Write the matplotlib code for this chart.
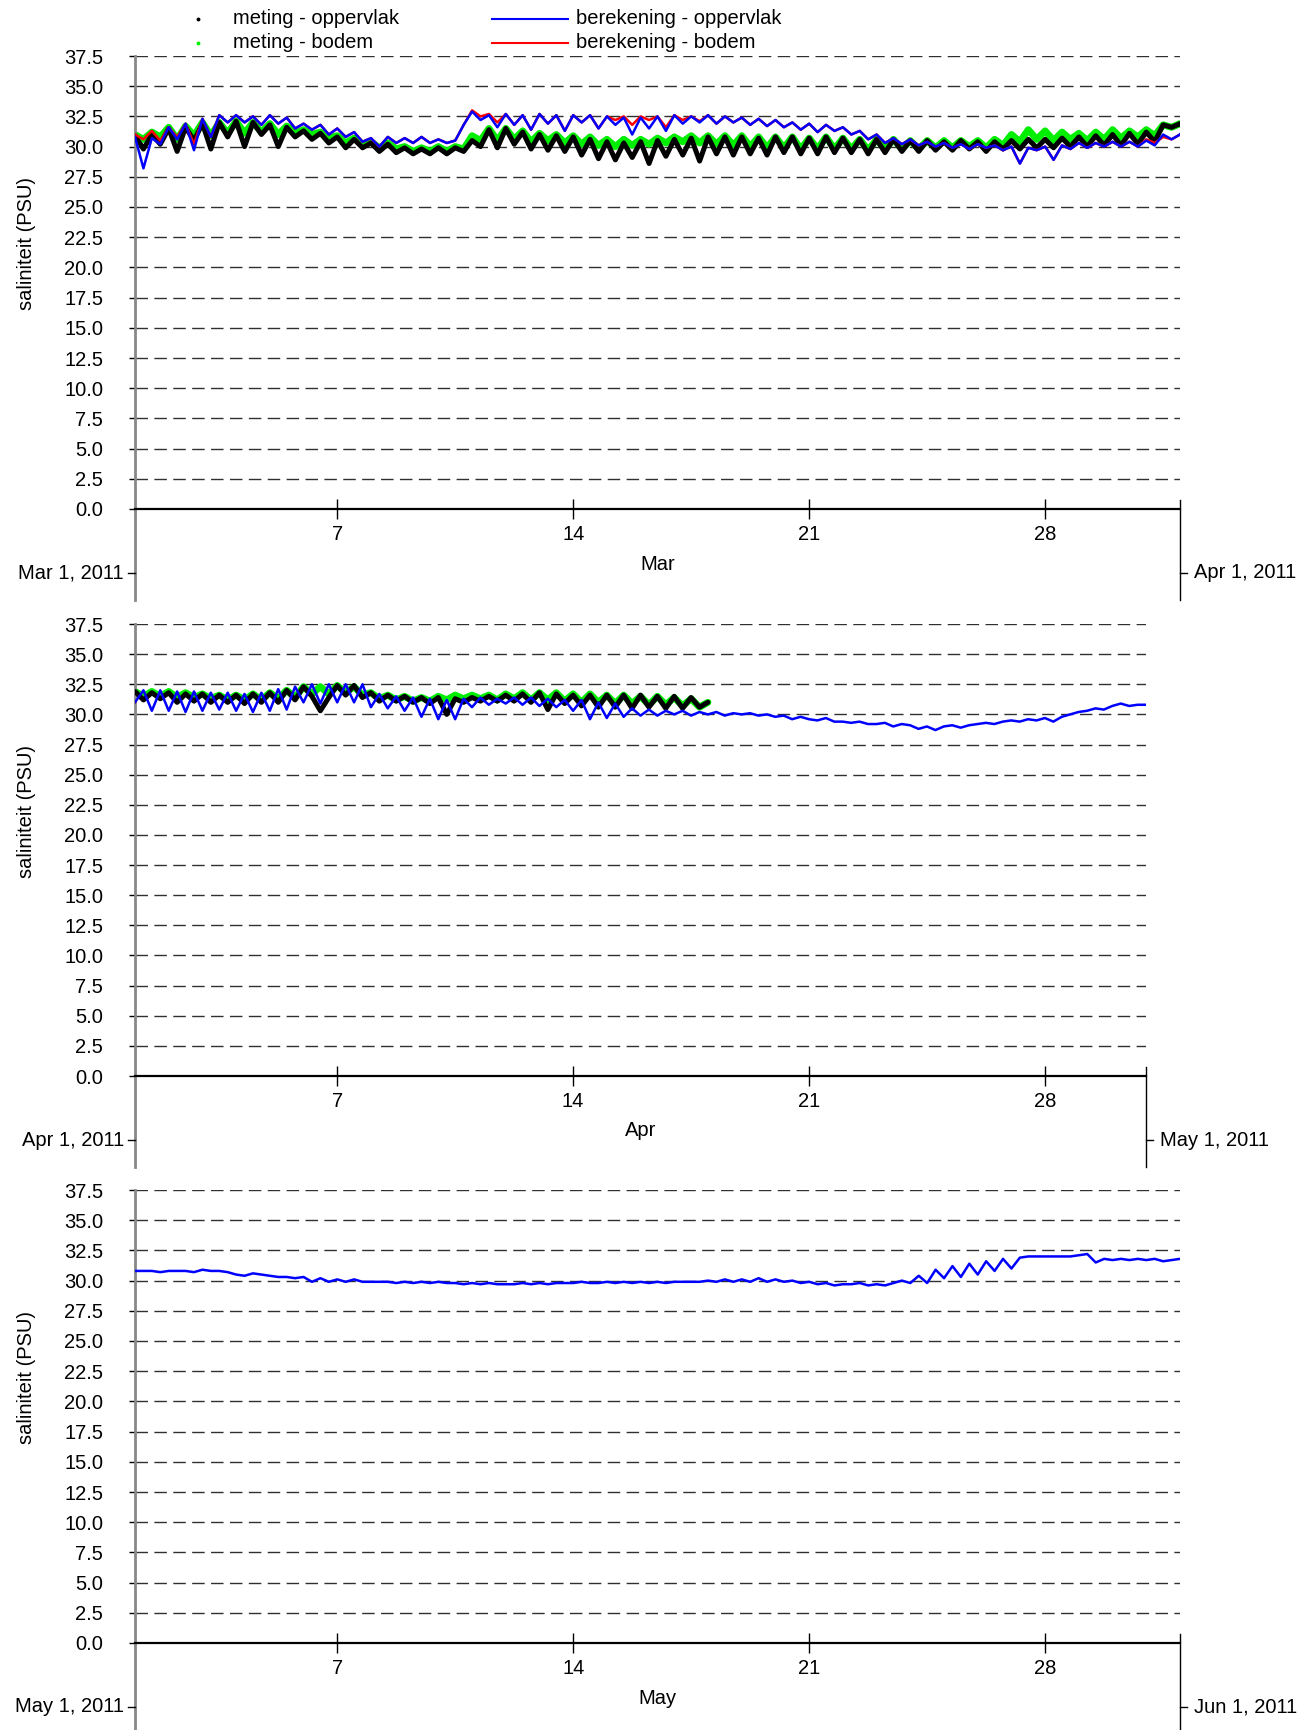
import numpy as np
import matplotlib
matplotlib.use("Agg")
import matplotlib.pyplot as plt
import matplotlib.dates as mdates
from matplotlib.lines import Line2D

plt.rcParams['font.family'] = ['Liberation Sans', 'DejaVu Sans']

# ---------------- data (6-hour samples) ----------------
# meting - oppervlak (black), from 2011-03-01 00:00
black_mar = [
    30.9, 29.8, 31.0, 30.2,  31.5, 29.6, 31.6, 30.5,  31.9, 29.8, 32.0, 30.8,
    32.1, 30.0, 32.0, 31.0,  31.8, 30.0, 31.6, 30.8,  31.3, 30.6, 31.1, 30.3,
    30.8, 29.9, 30.6, 29.9,  30.3, 29.6, 30.2, 29.5,  29.9, 29.4, 29.8, 29.4,
    29.9, 29.4, 29.9, 29.6,  30.5, 30.0, 31.4, 29.9,  31.5, 30.2, 31.2, 29.8,
    31.0, 29.7, 30.9, 29.6,  30.8, 29.3, 30.6, 29.0,  30.4, 28.9, 30.3, 29.1,
    30.4, 28.6, 30.5, 29.2,  30.6, 29.3, 30.7, 28.8,  30.8, 29.4, 30.8, 29.3,
    30.8, 29.4, 30.7, 29.3,  30.8, 29.5, 30.8, 29.4,  30.7, 29.4, 30.8, 29.5,
    30.7, 29.5, 30.6, 29.4,  30.6, 29.5, 30.6, 29.6,  30.5, 29.6, 30.5, 29.7,
    30.4, 29.7, 30.5, 29.8,  30.4, 29.6, 30.4, 29.8,  30.5, 29.8, 30.6, 29.9,
    30.6, 29.9, 30.7, 30.0,  30.8, 30.0, 30.9, 30.1,  31.0, 30.1, 31.1, 30.2,
    31.2, 30.4, 31.8, 31.6,
]
black_apr = [
    31.9, 31.2, 31.8, 31.3,  31.8, 31.0, 31.7, 31.1,  31.7, 31.0, 31.6, 31.0,
    31.6, 30.9, 31.7, 31.0,  31.8, 31.0, 32.0, 31.2,  32.3, 31.5, 30.3, 31.4,
    32.4, 31.6, 32.4, 31.4,  31.8, 31.1, 31.6, 31.1,  31.5, 31.0, 31.4, 30.9,
    31.4, 30.0, 31.3, 31.0,  31.4, 31.1, 31.5, 31.1,  31.6, 31.1, 31.7, 31.0,
    31.8, 30.4, 31.7, 30.9,  31.6, 30.7, 31.6, 30.6,  31.6, 30.6, 31.6, 30.5,
    31.6, 30.6, 31.5, 30.5,  31.5, 30.5, 31.4, 30.6,  31.0,
]
# meting - bodem (green)
green_mar = [
    31.0, 30.6, 31.2, 30.8,  31.6, 30.6, 31.7, 30.9,  32.0, 30.9, 32.0, 31.1,
    32.1, 31.1, 32.0, 31.2,  31.9, 31.0, 31.7, 31.1,  31.4, 31.0, 31.2, 30.7,
    30.9, 30.3, 30.7, 30.2,  30.4, 29.9, 30.3, 29.8,  30.0, 29.6, 29.9, 29.6,
    30.0, 29.6, 30.0, 29.8,  30.9, 30.5, 31.5, 30.5,  31.5, 30.6, 31.3, 30.4,
    31.1, 30.5, 31.0, 30.3,  30.9, 30.2, 30.8, 30.1,  30.6, 30.0, 30.6, 30.1,
    30.6, 30.2, 30.7, 30.3,  30.8, 30.4, 30.9, 30.3,  30.9, 30.2, 30.9, 30.1,
    30.9, 30.0, 30.8, 29.9,  30.8, 29.9, 30.8, 29.8,  30.7, 29.8, 30.8, 29.8,
    30.7, 29.8, 30.6, 29.7,  30.6, 29.8, 30.6, 29.8,  30.5, 29.8, 30.5, 29.9,
    30.5, 29.9, 30.5, 30.0,  30.5, 29.9, 30.6, 30.1,  31.0, 30.4, 31.4, 30.6,
    31.3, 30.5, 31.2, 30.6,  31.1, 30.5, 31.2, 30.6,  31.4, 30.7, 31.3, 30.8,
    31.4, 30.9, 31.8, 31.6,
]
green_apr = [
    31.9, 31.5, 31.9, 31.5,  31.9, 31.4, 31.8, 31.4,  31.7, 31.3, 31.6, 31.2,
    31.6, 31.2, 31.7, 31.2,  31.8, 31.3, 32.0, 31.4,  32.3, 31.7, 32.3, 31.7,
    32.4, 31.8, 32.3, 31.6,  31.8, 31.3, 31.6, 31.2,  31.5, 31.1, 31.4, 31.1,
    31.5, 31.2, 31.6, 31.3,  31.6, 31.3, 31.6, 31.2,  31.7, 31.3, 31.8, 31.2,
    31.8, 31.2, 31.8, 31.1,  31.7, 31.0, 31.7, 31.0,  31.6, 30.9, 31.6, 30.9,
    31.5, 30.8, 31.5, 30.8,  31.4, 30.7, 31.3, 30.6,  31.0,
]
# berekening - oppervlak (blue)
blue_mar = [
    30.8, 28.2, 30.7, 30.2,  31.6, 30.6, 31.9, 29.7,  32.3, 30.8, 32.6, 32.0,
    32.6, 32.0, 32.5, 31.8,  32.6, 31.9, 32.4, 31.5,  31.9, 31.4, 31.8, 31.0,
    31.5, 30.8, 31.2, 30.4,  30.7, 30.0, 30.8, 30.3,  30.7, 30.3, 30.8, 30.3,
    30.6, 30.3, 30.5, 31.8,  32.9, 32.2, 32.6, 31.6,  32.7, 31.8, 32.6, 31.4,
    32.7, 31.9, 32.6, 31.3,  32.6, 32.0, 32.6, 31.5,  32.5, 31.8, 32.4, 31.0,
    32.4, 31.5, 32.5, 31.3,  32.6, 31.9, 32.5, 32.0,  32.6, 31.9, 32.5, 32.0,
    32.4, 31.8, 32.3, 31.7,  32.2, 31.6, 32.0, 31.4,  31.9, 31.2, 31.8, 31.3,
    31.6, 31.0, 31.3, 30.6,  31.0, 30.3, 30.7, 30.2,  30.6, 30.1, 30.4, 30.0,
    30.3, 29.9, 30.2, 29.8,  30.2, 29.9, 30.1, 29.7,  30.0, 28.6, 29.9, 29.7,
    30.0, 28.9, 30.1, 29.8,  30.3, 29.9, 30.3, 30.0,  30.4, 30.0, 30.4, 30.0,
    30.5, 30.1, 31.0, 30.6,
]
blue_apr = [
    31.0, 32.0, 30.3, 32.0,  30.3, 31.9, 30.2, 31.9,  30.3, 31.8, 30.4, 31.8,
    30.3, 31.7, 30.2, 31.8,  30.3, 32.1, 30.4, 32.3,  31.0, 32.5, 30.9, 32.5,
    31.0, 32.5, 31.0, 32.5,  30.6, 31.7, 30.5, 31.5,  30.3, 31.4, 29.8, 31.3,
    29.6, 31.2, 29.6, 31.3,  30.6, 31.4, 30.8, 31.3,  30.9, 31.4, 30.8, 31.4,
    30.7, 31.3, 30.6, 31.2,  30.3, 31.2, 29.6, 31.0,  29.7, 30.9, 29.8, 30.5,
    29.9, 30.4, 29.9, 30.3,  30.0, 30.3, 29.9, 30.2,  30.0, 30.2, 29.9, 30.1,
    30.0, 30.1, 29.9, 30.0,  29.8, 29.9, 29.6, 29.8,  29.6, 29.5, 29.7, 29.4,
    29.4, 29.3, 29.4, 29.2,  29.2, 29.3, 29.0, 29.2,  29.1, 28.8, 29.0, 28.7,
    29.0, 29.1, 28.9, 29.1,  29.2, 29.3, 29.2, 29.4,  29.5, 29.4, 29.6, 29.5,
    29.7, 29.4, 29.8, 30.0,  30.2, 30.3, 30.5, 30.4,  30.7, 30.9, 30.7, 30.8,
]
blue_may = [
    30.8, 30.8, 30.8, 30.7,  30.8, 30.8, 30.8, 30.7,  30.9, 30.8, 30.8, 30.7,
    30.5, 30.4, 30.6, 30.5,  30.4, 30.3, 30.3, 30.2,  30.3, 29.9, 30.2, 29.9,
    30.1, 29.9, 30.1, 29.9,  29.9, 29.9, 29.9, 29.8,  29.9, 29.8, 29.9, 29.8,
    29.9, 29.8, 29.8, 29.7,  29.8, 29.7, 29.8, 29.7,  29.7, 29.7, 29.8, 29.7,
    29.8, 29.7, 29.8, 29.8,  29.8, 29.9, 29.8, 29.8,  29.9, 29.8, 29.9, 29.8,
    29.9, 29.8, 29.9, 29.8,  29.9, 29.9, 29.9, 29.9,  30.0, 29.9, 30.1, 29.9,
    30.1, 29.9, 30.2, 29.9,  30.1, 29.9, 30.0, 29.8,  29.9, 29.7, 29.8, 29.6,
    29.7, 29.7, 29.8, 29.6,  29.7, 29.6, 29.8, 30.0,  29.8, 30.4, 29.8, 30.9,
    30.2, 31.2, 30.3, 31.4,  30.5, 31.6, 30.8, 31.8,  31.0, 31.9, 32.0, 32.0,
    32.0, 32.0, 32.0, 32.0,  32.1, 32.2, 31.5, 31.8,  31.7, 31.8, 31.7, 31.8,
    31.7, 31.8, 31.6, 31.7,  31.8,
]
# berekening - bodem (red)
red_mar = [
    31.0, 30.6, 31.3, 30.5,  31.6, 30.8, 31.9, 30.2,  32.3, 30.8, 32.6, 32.0,
    32.6, 32.0, 32.5, 31.8,  32.6, 31.9, 32.4, 31.5,  31.9, 31.4, 31.8, 31.0,
    31.5, 30.8, 31.2, 30.4,  30.7, 30.0, 30.8, 30.3,  30.7, 30.3, 30.8, 30.3,
    30.6, 30.3, 30.5, 31.8,  33.0, 32.5, 32.7, 32.0,  32.7, 31.8, 32.6, 31.4,
    32.7, 31.9, 32.6, 31.3,  32.6, 32.0, 32.6, 31.5,  32.5, 32.2, 32.5, 31.8,
    32.5, 32.2, 32.5, 31.6,  32.6, 32.2, 32.5, 32.1,  32.6, 31.9, 32.5, 32.0,
    32.4, 31.8, 32.3, 31.7,  32.2, 31.6, 32.0, 31.4,  31.9, 31.2, 31.8, 31.3,
    31.6, 31.0, 31.3, 30.6,  31.0, 30.3, 30.7, 30.2,  30.6, 30.1, 30.4, 30.0,
    30.3, 29.9, 30.2, 29.8,  30.2, 29.9, 30.1, 29.7,  30.0, 28.6, 29.9, 29.7,
    30.0, 28.9, 30.1, 29.8,  30.3, 29.9, 30.3, 30.0,  30.4, 30.0, 30.4, 30.0,
    30.6, 30.3, 30.8, 30.6,  31.0,
]

months = ['2011-03-01', '2011-04-01', '2011-05-01', '2011-06-01']
month_names = ['Mar', 'Apr', 'May']
edge_labels = ['Mar 1, 2011', 'Apr 1, 2011', 'May 1, 2011', 'Jun 1, 2011']
day_ticks = [7, 14, 21, 28]
y_ticks = np.arange(0, 37.51, 2.5)

legend_labels = ['meting - oppervlak', 'meting - bodem',
                 'berekening - oppervlak', 'berekening - bodem']

# ---------------- build time axes ----------------
start = np.datetime64('2011-03-01T00:00')
step = np.timedelta64(6, 'h')


def times(n):
    return mdates.date2num(start + np.arange(n) * step)


black = np.array(black_mar + black_apr)
green = np.array(green_mar + green_apr)
blue = np.array(blue_mar + blue_apr + blue_may)
red = np.array(red_mar)

W, H = 1310, 1730
fig = plt.figure(figsize=(W / 100, H / 100), dpi=100)

FS = 14.5
axes_px = [  # left, top, right, bottom in pixels
    (135, 56, 1180, 509),
    (135, 624, 1146, 1076),
    (135, 1190, 1180, 1643),
]
grid_col = '#303030'

for i, (l, t, r, b) in enumerate(axes_px):
    ax = fig.add_axes([l / W, 1 - b / H, (r - l) / W, (b - t) / H])
    m0 = np.datetime64(months[i])
    x0 = mdates.date2num(m0)
    x1 = mdates.date2num(np.datetime64(months[i + 1]))
    ax.set_xlim(x0, x1)
    ax.set_ylim(0, 37.5)

    for yv in y_ticks[1:]:
        ax.axhline(yv, color=grid_col, lw=1.0, ls=(0, (9, 4.6)), zorder=1)

    ax.plot(times(len(green)), green, color='#00ee00', lw=5.0,
            solid_capstyle='round', zorder=2)
    ax.plot(times(len(black)), black, color='black', lw=3.6,
            solid_capstyle='round', zorder=3)
    ax.plot(times(len(red)), red, color='#ff0000', lw=1.8, zorder=4)
    ax.plot(times(len(blue)), blue, color='#0000ff', lw=1.8, zorder=5)

    # y axis
    ax.set_yticks(y_ticks)
    ax.set_yticklabels(['%.1f' % v for v in y_ticks], fontsize=FS)
    ax.tick_params(axis='y', direction='out', length=4, width=1,
                   pad=19, colors='black')
    # x axis (day-of-month ticks)
    ax.set_xticks([mdates.date2num(m0 + np.timedelta64(d - 1, 'D'))
                   for d in day_ticks])
    ax.set_xticklabels([str(d) for d in day_ticks], fontsize=FS)
    ax.tick_params(axis='x', direction='inout', length=15, width=1, pad=4)

    for s in ['top', 'right']:
        ax.spines[s].set_visible(False)
    ax.spines['left'].set_color('#888888')
    ax.spines['left'].set_linewidth(2.0)
    ax.spines['bottom'].set_color('black')
    ax.spines['bottom'].set_linewidth(1.6)
    ax.spines['bottom'].set_zorder(6)

    hpx = b - t
    wpx = r - l
    # secondary date axis below
    ax.plot([0, 0], [0, -91 / hpx], transform=ax.transAxes, clip_on=False,
            color='#888888', lw=2.0)
    ax.plot([1, 1], [9 / hpx, -91 / hpx], transform=ax.transAxes, clip_on=False,
            color='black', lw=1.0)
    ax.plot([-7 / wpx, 0], [-64 / hpx, -64 / hpx], transform=ax.transAxes,
            clip_on=False, color='black', lw=1.0)
    ax.plot([1, 1 + 7 / wpx], [-64 / hpx, -64 / hpx], transform=ax.transAxes,
            clip_on=False, color='black', lw=1.0)
    ax.text(-11 / wpx, -64 / hpx, edge_labels[i], transform=ax.transAxes,
            ha='right', va='center', fontsize=FS)
    ax.text(1 + 14 / wpx, -64 / hpx, edge_labels[i + 1], transform=ax.transAxes,
            ha='left', va='center', fontsize=FS)
    ax.text(0.5, -55 / hpx, month_names[i], transform=ax.transAxes,
            ha='center', va='center', fontsize=FS)

    fig.text(26 / W, 1 - (t + 188) / H, 'saliniteit (PSU)', rotation=90,
             ha='center', va='center', fontsize=FS)

# ---------------- legend ----------------
def fx(px):
    return px / W


def fy(py):
    return 1 - py / H


fig.add_artist(Line2D([fx(198)], [fy(19)], marker='o', ms=1.8, color='black',
                      ls='none', transform=fig.transFigure))
fig.add_artist(Line2D([fx(198)], [fy(43)], marker='o', ms=1.8, color='#00ee00',
                      ls='none', transform=fig.transFigure))
fig.add_artist(Line2D([fx(492), fx(568)], [fy(19), fy(19)], color='#0000ff',
                      lw=1.5, transform=fig.transFigure))
fig.add_artist(Line2D([fx(492), fx(568)], [fy(43), fy(43)], color='#ff0000',
                      lw=1.5, transform=fig.transFigure))
fig.text(fx(233), fy(19), legend_labels[0], ha='left', va='center', fontsize=FS)
fig.text(fx(233), fy(43), legend_labels[1], ha='left', va='center', fontsize=FS)
fig.text(fx(576), fy(19), legend_labels[2], ha='left', va='center', fontsize=FS)
fig.text(fx(576), fy(43), legend_labels[3], ha='left', va='center', fontsize=FS)

fig.savefig('out.png', dpi=100)
